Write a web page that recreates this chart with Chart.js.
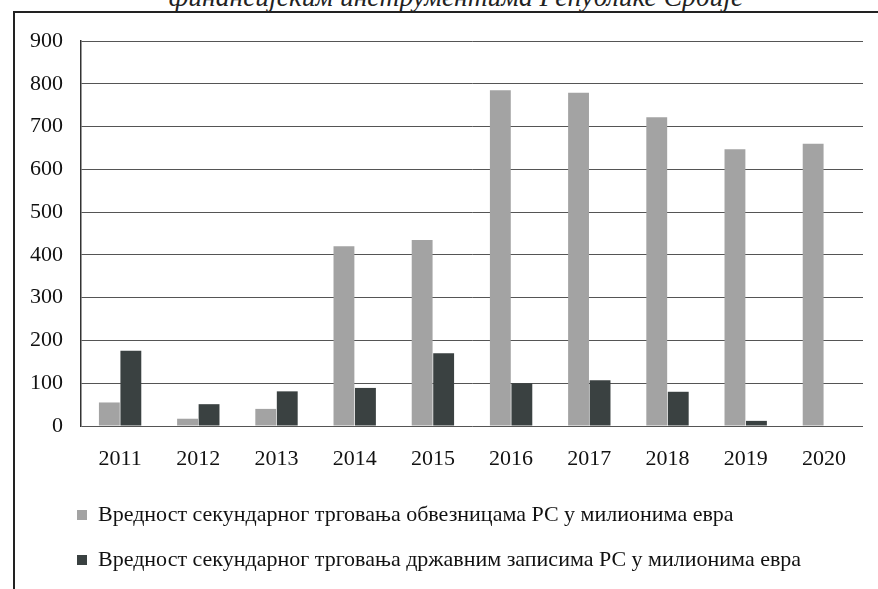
<!DOCTYPE html>
<html>
<head>
<meta charset="utf-8">
<script src="https://cdn.jsdelivr.net/npm/chart.js@4"></script>
<style>
  html, body { margin: 0; padding: 0; background: #fff; }
  #wrap { position: relative; width: 878px; height: 589px; overflow: hidden; background: #fff; }
  #frame { position: absolute; left: 13px; top: 11px; width: 880px; height: 600px;
           border-left: 2px solid #222; border-top: 2px solid #222; }
  #title { position: absolute; left: 0; width: 912px; top: -16px; text-align: center;
           font: italic 27.5px 'Liberation Serif', serif; line-height: 26px; color: #222; white-space: nowrap; }
  canvas { position: absolute; left: 0; top: 0; }
</style>
</head>
<body>
<div id="wrap">
  <div id="title">финансијским инструментима Републике Србије</div>
  <div id="frame"></div>
  <canvas id="c" width="878" height="589"></canvas>
</div>
<script>
const years = ['2011','2012','2013','2014','2015','2016','2017','2018','2019','2020'];
const bonds = [55, 17, 40, 420, 435, 785, 779, 722, 647, 660];
const bills = [176, 51, 81, 89, 170, 100, 107, 80, 12, 0];
const seriesNames = [
  'Вредност секундарног трговања обвезницама РС у милионима евра',
  'Вредност секундарног трговања државним записима РС у милионима евра'
];
const yMin = 0, yMax = 900, yStep = 100;

const serif = "'Liberation Serif', 'Times New Roman', serif";

new Chart(document.getElementById('c'), {
  type: 'bar',
  data: {
    labels: years,
    datasets: [
      { label: seriesNames[0], data: bonds, backgroundColor: '#a3a3a3', borderColor: '#8c8c8c', borderWidth: 0 },
      { label: seriesNames[1], data: bills, backgroundColor: '#3a4141', borderColor: '#222', borderWidth: 0 }
    ]
  },
  options: {
    responsive: false,
    animation: false,
    layout: { padding: { left: 54, right: 15, top: 41, bottom: 8 } },
    datasets: { bar: { categoryPercentage: 0.55, barPercentage: 0.97 } },
    plugins: {
      legend: {
        position: 'bottom',
        align: 'start',
        labels: {
          boxWidth: 10, boxHeight: 10, padding: 23,
          color: '#111',
          font: { family: serif, size: 22 }
        }
      },
      tooltip: { enabled: false }
    },
    scales: {
      x: {
        grid: { display: false },
        border: { display: false },
        ticks: { color: '#111', padding: 12, font: { family: serif, size: 22 } },
        afterFit: (s) => { s.height = 55; }
      },
      y: {
        min: yMin, max: yMax,
        grid: { color: '#555', lineWidth: 1, drawTicks: false },
        border: { display: true, color: '#333', width: 1.5 },
        ticks: { stepSize: yStep, color: '#111', mirror: true, crossAlign: 'far', padding: -51,
                 font: { family: serif, size: 22 } },
        afterFit: (s) => { s.width = 27; }
      }
    }
  }
});
</script>
</body>
</html>
